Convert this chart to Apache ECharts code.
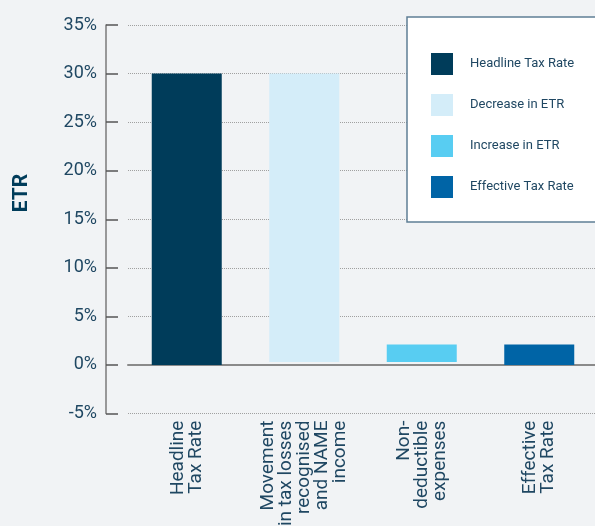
<!DOCTYPE html>
<html><head><meta charset="utf-8">
<script src="https://cdn.jsdelivr.net/npm/echarts@6/dist/echarts.min.js"></script>
<style>html,body{margin:0;padding:0;background:#f1f3f5;}#c{width:595px;height:526px;}</style>
</head><body><div id="c"></div>
<script>
const categories = ['Headline\nTax Rate', 'Movement\nin tax losses\nrecognised\nand NAME\nincome', 'Non-\ndeductible\nexpenses', 'Effective\nTax Rate'];
const baseValues = [0, 0.3, 0.3, 0];
const headlineValues = [30, '-', '-', '-'];
const decreaseValues = ['-', 29.7, '-', '-'];
const increaseValues = ['-', '-', 1.8, '-'];
const effectiveValues = ['-', '-', '-', 2.1];
const seriesNames = ['Headline Tax Rate', 'Decrease in ETR', 'Increase in ETR', 'Effective Tax Rate'];
const colors = ['#003c5a', '#d4edf9', '#58cdf2', '#0064a6'];
const yTicks = {min: -5, max: 35, interval: 5};

const chart = echarts.init(document.getElementById('c'));
const txt = '#1f4762';
const mk = (i, data) => ({
  name: seriesNames[i], type: 'bar', stack: 'w', data: data, barWidth: 70,
  itemStyle: {color: colors[i]}, emphasis: {disabled: true}
});
chart.setOption({
  backgroundColor: '#f1f3f5',
  animation: false,
  grid: {left: 128, top: 25, width: 470, height: 388.57, containLabel: false, outerBoundsMode: 'none'},
  legend: {
    orient: 'vertical', left: 407, top: 17,
    data: seriesNames,
    padding: [36, 60, 24, 24],
    itemWidth: 22, itemHeight: 22, itemGap: 19,
    backgroundColor: '#ffffff', borderColor: '#5f7f95', borderWidth: 1.5,
    icon: 'rect',
    textStyle: {color: txt, fontSize: 13, fontFamily: 'Roboto', padding: [0, 0, 0, 12]}
  },
  graphic: [{
    type: 'text', x: 22, y: 193, rotation: Math.PI / 2,
    style: {text: 'ETR', fill: '#003c5a', font: 'bold 21px Roboto', align: 'center', verticalAlign: 'middle'}
  }],
  xAxis: {
    type: 'category', data: categories,
    axisLine: {onZero: true, lineStyle: {color: '#8a8a8a', width: 2}},
    axisTick: {show: false},
    axisLabel: {rotate: 90, margin: 7, color: txt, fontSize: 19, lineHeight: 18, fontFamily: 'Roboto', interval: 0}
  },
  yAxis: {
    type: 'value', min: yTicks.min, max: yTicks.max, interval: yTicks.interval,
    offset: 22,
    axisLine: {show: true, lineStyle: {color: '#7a7a7a', width: 1.5}},
    axisTick: {show: true, inside: true, length: 12, lineStyle: {color: '#555555', width: 1.5}},
    axisLabel: {formatter: '{value}%', color: txt, fontSize: 18, fontFamily: 'Roboto', margin: 9},
    splitLine: {show: true, lineStyle: {color: '#a0a0a0', type: 'dotted', width: 1}}
  },
  series: [
    {name: 'base', type: 'bar', stack: 'w', data: baseValues, barWidth: 70,
     itemStyle: {color: 'transparent'}, emphasis: {disabled: true}, legendHoverLink: false},
    mk(0, headlineValues), mk(1, decreaseValues), mk(2, increaseValues), mk(3, effectiveValues)
  ]
});
</script></body></html>
